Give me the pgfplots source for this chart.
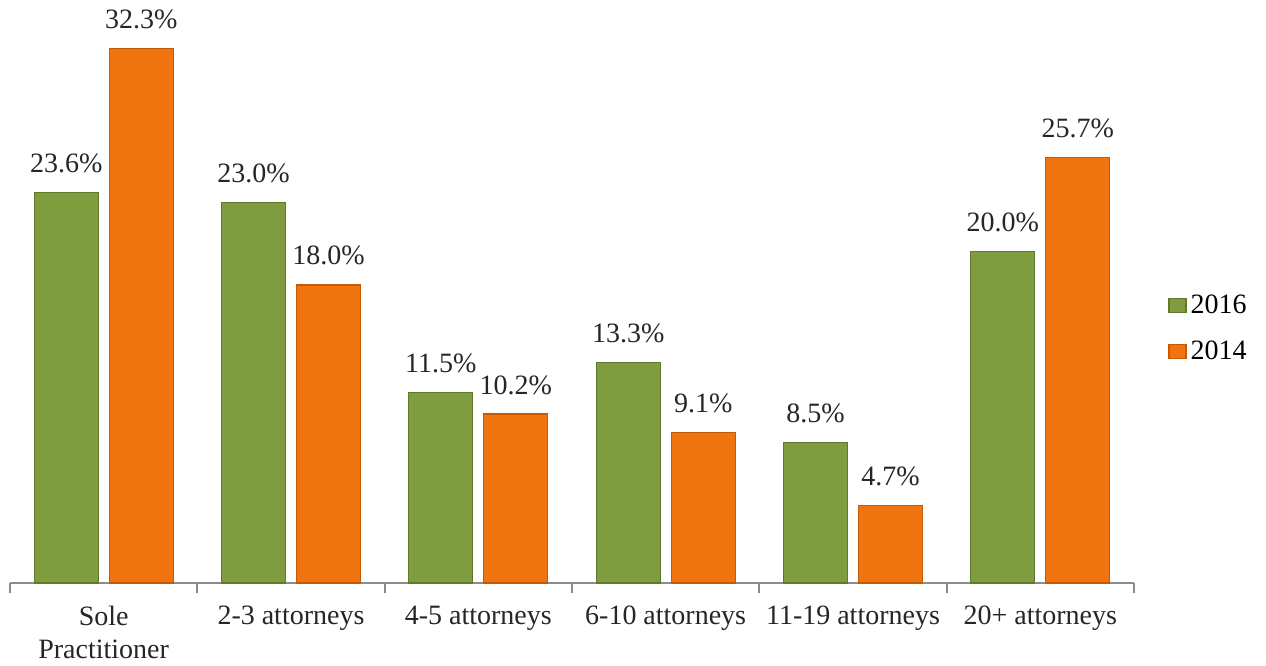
\documentclass[border=0pt]{standalone}
\usepackage{pgfplots}
\pgfplotsset{compat=1.18}
\usepackage{pgfplotstable}
\usepackage{fontspec}
\setmainfont{Liberation Serif}
\definecolor{cgreen}{HTML}{7F9D3F}
\definecolor{cgreenD}{HTML}{5E7A2A}
\definecolor{corange}{HTML}{F07510}
\definecolor{corangeD}{HTML}{C45A05}
\definecolor{axgray}{HTML}{8C8C8C}
\pgfplotstableread{
x y lab
0 23.6 23.6\%
1 23.0 23.0\%
2 11.5 11.5\%
3 13.3 13.3\%
4 8.5 8.5\%
5 20.0 20.0\%
}\dataA
\pgfplotstableread{
x y lab
0 32.3 32.3\%
1 18.0 18.0\%
2 10.2 10.2\%
3 9.1 9.1\%
4 4.7 4.7\%
5 25.7 25.7\%
}\dataB
\begin{document}
\begin{tikzpicture}
\begin{axis}[
  scale only axis,
  width=562pt, height=281.5pt,
  xmin=-0.5, xmax=5.5, ymin=0, ymax=34,
  ybar=5.5pt, bar width=32pt,
  clip=false,
  axis x line*=bottom, axis y line=none,
  x axis line style={axgray, line width=1pt, -},
  xtick={0,...,5},
  xticklabels={{Sole\\Practitioner},{2-3 attorneys},{4-5 attorneys},{6-10 attorneys},{11-19 attorneys},{20+ attorneys}},
  major tick length=0pt,
  extra x ticks={-0.5,0.5,...,5.5},
  extra x tick labels={},
  extra x tick style={major tick length=5pt, tick align=outside, tick style={axgray, line width=1pt}},
  xticklabel style={align=center, font=\fontsize{14}{16.5}\selectfont, text=black!85, yshift=-8pt},
  nodes near coords,
  point meta=explicit symbolic,
  every node near coord/.append style={font=\fontsize{14}{16.5}\selectfont, text=black!85, inner sep=0pt, anchor=south, yshift=9.5pt},
  legend style={at={(1,0.452)}, anchor=west, xshift=17pt, draw=none, fill=none,
     font=\fontsize{14}{16.5}\selectfont, row sep=8.5pt, inner sep=0pt},
  legend cell align=left,
  legend image code/.code={\fill[#1] (0pt,-3.5pt) rectangle (8.5pt,3.5pt);},
]
\addplot[fill=cgreen, draw=cgreenD, line width=0.6pt] table[x=x,y=y,meta=lab]{\dataA};
\addplot[fill=corange, draw=corangeD, line width=0.6pt] table[x=x,y=y,meta=lab]{\dataB};
\legend{2016,2014}
\end{axis}
\useasboundingbox (-5pt,-40pt) rectangle (628pt,291.5pt);
\end{tikzpicture}
\end{document}
